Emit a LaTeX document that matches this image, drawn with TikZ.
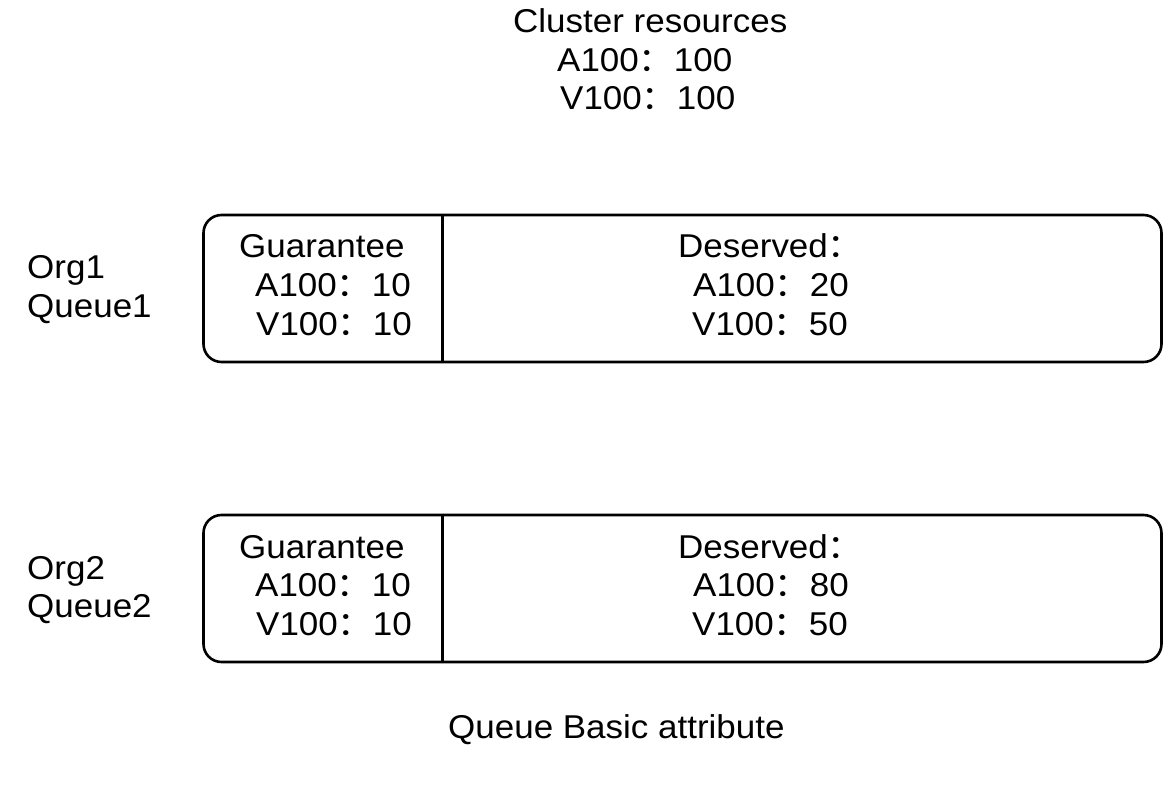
\documentclass[tikz,border=0pt]{standalone}
\usepackage{fontspec}
\setmainfont[FakeStretch=1.06]{Liberation Sans}
\newfontfamily\cjk[FakeStretch=1.06]{Noto Sans CJK SC}
\newcommand{\fcol}{{\cjk ：}}
\begin{document}
\begin{tikzpicture}[x=1pt,y=-1pt,
  every node/.style={font=\fontsize{33}{38}\selectfont, inner sep=0pt},
  txt/.style={anchor=base west},
  qbox/.style={draw, line width=2.6pt, rounded corners=18pt, minimum width=958pt, minimum height=147pt},
  divline/.style={line width=2.6pt}]
\useasboundingbox (0,0) rectangle (1164,786);
\fill[white] (0,0) rectangle (1164,786);
% cluster resources
\node[txt] (ct1) at (513,33) {Cluster resources};
\node[txt] (ct2) at (557,71.5) {A100\fcol 100};
\node[txt] (ct3) at (560,110) {V100\fcol 100};
% queue 1
\node[qbox] (box1) at (682.5,288.5) {};
\coordinate (d1) at (442.5,0);
\draw[divline] (box1.north -| d1) -- (box1.south -| d1);
\node[txt] (o1) at (27,279) {Org1};
\node[txt] (q1) at (27,317) {Queue1};
\node[txt] (g1a) at (239,258) {Guarantee};
\node[txt] (g1b) at (255,296.5) {A100\fcol 10};
\node[txt] (g1c) at (256,335) {V100\fcol 10};
\node[txt] (s1a) at (678,258) {Deserved\fcol};
\node[txt] (s1b) at (693,296.5) {A100\fcol 20};
\node[txt] (s1c) at (692,335) {V100\fcol 50};
% queue 2
\node[qbox] (box2) at (682.5,588.5) {};
\draw[divline] (box2.north -| d1) -- (box2.south -| d1);
\node[txt] (o2) at (27,579) {Org2};
\node[txt] (q2) at (27,617) {Queue2};
\node[txt] (g2a) at (239,558) {Guarantee};
\node[txt] (g2b) at (255,596.5) {A100\fcol 10};
\node[txt] (g2c) at (256,635) {V100\fcol 10};
\node[txt] (s2a) at (678,558) {Deserved\fcol};
\node[txt] (s2b) at (693,596.5) {A100\fcol 80};
\node[txt] (s2c) at (692,635) {V100\fcol 50};
% caption
\node[txt] (cap) at (448,738) {Queue Basic attribute};
\end{tikzpicture}
\end{document}
